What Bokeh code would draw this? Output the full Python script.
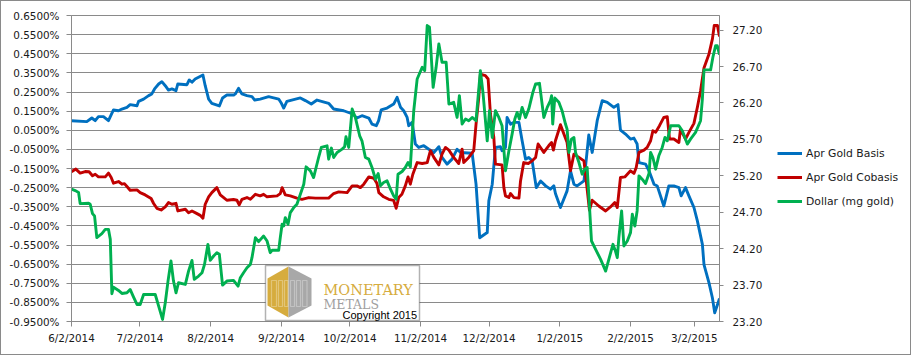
from datetime import datetime, timedelta
from bokeh.plotting import figure
from bokeh.layouts import row
from bokeh.models import (Range1d, LinearAxis, FixedTicker, PrintfTickFormatter,
                          CustomJSTickFormatter, Legend, LegendItem, Label,
                          PolyAnnotation, BoxAnnotation)
from bokeh.embed import file_html
from bokeh.resources import INLINE

START = "2014-06-02"
END = "2015-03-13"

# day offsets from START and values (left axis: %, right axis: mg gold)
basis_day = [0, 6.7, 8.9, 10.4, 11.8, 14.0, 16.2, 18.4, 20.6, 22.1, 24.3, 25.7, 28.7, 29.4, 31.6,
             33.8, 35.2, 36.4, 38.2, 39.6, 41.1, 42.5, 44.0, 45.8, 46.6, 50.6, 51.6, 52.8, 54.2,
             57.6, 58.6, 60.1, 61.5, 64.8, 66.2, 68.1, 71.1, 71.8, 73.2, 74.7, 76.9, 79.1, 80.3,
             82.7, 86.4, 90.8, 92.0, 93.0, 94.4, 100.3, 102.5, 105.1, 107.6, 112.7, 114.9, 119.3,
             123.2, 125.1, 127.3, 130.3, 131.7, 133.6, 134.6, 135.7, 138.3, 141.2, 142.7, 144.2,
             145.6, 147.1, 147.8, 149.3, 150.7, 152.2, 154.4, 156.6, 158.8, 161.0, 162.4, 164.6,
             166.8, 169.0, 170.5, 175.6, 177.3, 178.9, 182.2, 182.9, 184.4, 185.8, 188.0, 188.7,
             190.2, 190.9, 192.4, 193.9, 196.1, 197.5, 199.0, 200.4, 201.9, 203.7, 205.6, 207.8,
             209.9, 211.4, 212.1, 214.3, 217.2, 218.7, 220.2, 221.6, 224.6, 225.7, 226.7, 228.2,
             230.4, 232.6, 234.8, 237.7, 239.5, 240.6, 242.8, 245.0, 246.5, 247.9, 248.7, 251.6,
             253.1, 255.3, 256.7, 259.6, 261.8, 264.0, 266.2, 267.2, 269.1, 270.6, 272.8, 274.3,
             276.5, 277.2, 279.4, 280.9, 281.9, 284.0]
basis_pct = [0.100, 0.095, 0.114, 0.100, 0.121, 0.121, 0.100, 0.156, 0.152, 0.161, 0.170, 0.184,
             0.178, 0.201, 0.213, 0.231, 0.240, 0.266, 0.292, 0.304, 0.283, 0.260, 0.266, 0.257,
             0.292, 0.288, 0.313, 0.301, 0.318, 0.339, 0.283, 0.213, 0.191, 0.177, 0.219, 0.234,
             0.234, 0.240, 0.269, 0.240, 0.231, 0.226, 0.208, 0.213, 0.226, 0.213, 0.191, 0.166,
             0.201, 0.219, 0.205, 0.187, 0.208, 0.191, 0.161, 0.152, 0.135, 0.114, 0.126, 0.114,
             0.082, 0.074, 0.100, 0.156, 0.166, 0.187, 0.222, 0.170, 0.152, 0.117, 0.074, 0.091,
             -0.022, -0.040, -0.031, -0.049, -0.066, -0.036, -0.092, -0.127, -0.101, -0.049,
             -0.066, -0.070, -0.232, -0.512, -0.485, -0.319, -0.232, -0.040, -0.036, -0.057,
             -0.040, 0.117, 0.082, 0.091, 0.091, -0.005, -0.101, -0.092, -0.110, -0.250, -0.215,
             -0.241, -0.258, -0.241, -0.281, -0.354, -0.267, -0.162, -0.232, -0.241, -0.215,
             -0.092, 0.025, -0.066, 0.100, 0.205, 0.196, 0.170, 0.184, 0.051, 0.030, 0.004, 0.009,
             -0.022, -0.119, -0.127, -0.162, -0.232, -0.241, -0.346, -0.241, -0.241, -0.250,
             -0.293, -0.250, -0.293, -0.354, -0.424, -0.547, -0.652, -0.748, -0.827, -0.905, -0.830]

cobasis_day = [0, 1.9, 3.8, 6.0, 7.7, 9.2, 10.4, 11.8, 14.8, 16.2, 17.4, 18.4, 20.6, 22.1, 23.2,
               24.3, 25.7, 28.7, 30.1, 32.3, 34.9, 36.0, 37.4, 39.3, 41.1, 42.5, 44.0, 45.8, 46.6,
               49.9, 51.3, 52.8, 55.0, 56.4, 57.6, 58.6, 60.1, 61.5, 63.7, 65.2, 66.7, 68.1, 71.0,
               72.5, 73.5, 74.7, 76.9, 78.4, 80.6, 82.7, 84.2, 85.7, 90.1, 91.5, 92.3, 93.7, 95.9,
               98.8, 101.0, 104.0, 106.9, 112.7, 114.9, 117.1, 120.8, 123.0, 125.1, 126.6, 128.1,
               130.3, 132.5, 133.9, 134.7, 136.8, 139.0, 141.2, 142.3, 143.4, 144.8, 146.3, 147.5,
               148.5, 149.6, 151.5, 153.7, 155.9, 157.3, 158.8, 161.0, 162.4, 163.9, 165.4, 167.5,
               169.7, 171.2, 171.9, 174.1, 176.3, 177.3, 178.5, 179.2, 181.4, 182.6, 183.6, 185.1,
               185.8, 188.7, 189.5, 190.2, 191.7, 192.4, 193.9, 196.1, 196.8, 198.2, 200.2, 201.9,
               203.4, 204.5, 207.0, 209.2, 210.4, 211.2, 212.1, 214.3, 215.8, 217.2, 218.7, 220.2,
               222.4, 224.6, 225.6, 227.0, 228.2, 231.1, 234.1, 236.2, 238.1, 239.2, 240.6, 242.5,
               245.0, 246.5, 247.5, 248.7, 250.9, 252.3, 253.8, 254.8, 256.0, 257.7, 259.6, 261.1,
               262.1, 264.0, 266.2, 266.9, 269.1, 270.6, 272.8, 274.3, 275.7, 277.2, 279.4, 280.9,
               281.7, 283.1, 284.0]
cobasis_pct = [-0.167, -0.153, -0.174, -0.166, -0.167, -0.188, -0.180, -0.194, -0.194, -0.174,
               -0.197, -0.227, -0.218, -0.232, -0.229, -0.244, -0.264, -0.262, -0.276, -0.288,
               -0.307, -0.333, -0.358, -0.367, -0.351, -0.328, -0.337, -0.332, -0.372, -0.363,
               -0.381, -0.372, -0.386, -0.395, -0.410, -0.337, -0.298, -0.276, -0.250, -0.288,
               -0.302, -0.316, -0.312, -0.316, -0.340, -0.311, -0.302, -0.311, -0.285, -0.293,
               -0.285, -0.298, -0.293, -0.281, -0.250, -0.288, -0.293, -0.305, -0.311, -0.302,
               -0.305, -0.305, -0.281, -0.272, -0.276, -0.241, -0.241, -0.250, -0.232, -0.194,
               -0.201, -0.229, -0.276, -0.298, -0.311, -0.317, -0.358, -0.302, -0.285, -0.241,
               -0.194, -0.232, -0.180, -0.119, -0.124, -0.119, -0.057, -0.092, -0.131, -0.075,
               -0.040, -0.054, -0.092, -0.124, -0.049, -0.119, -0.092, -0.057, 0.082, 0.222,
               0.344, 0.336, 0.318, 0.135, 0.012, -0.127, -0.131, -0.250, -0.293, -0.302, -0.281,
               -0.302, -0.305, -0.215, -0.119, -0.124, -0.110, -0.092, -0.022, -0.066, -0.030,
               -0.014, -0.054, -0.005, 0.079, 0.030, -0.014, -0.162, -0.075, -0.092, -0.110,
               -0.215, -0.368, -0.316, -0.346, -0.372, -0.351, -0.328, -0.354, -0.197, -0.194,
               -0.162, -0.176, -0.145, -0.066, -0.054, -0.040, -0.005, 0.047, 0.039, 0.074, 0.117,
               0.121, 0.004, 0.004, -0.014, 0.056, 0.004, 0.039, 0.086, 0.170, 0.257, 0.376, 0.449,
               0.528, 0.598, 0.598, 0.540]

dollar_day = [0, 1.9, 3.1, 3.8, 7.5, 8.2, 9.2, 10.1, 11.1, 13.3, 14.8, 16.2, 17.0, 17.7, 18.4,
              20.6, 22.1, 24.3, 25.7, 27.2, 28.7, 30.1, 31.6, 36.7, 38.2, 39.9, 41.1, 42.3, 43.6,
              44.7, 45.8, 46.9, 49.9, 51.3, 52.8, 53.8, 55.7, 57.2, 58.3, 59.8, 60.8, 62.3, 63.7,
              64.8, 66.2, 68.1, 71.0, 73.0, 74.0, 75.4, 76.9, 78.4, 79.1, 80.6, 82.0, 84.2, 85.7,
              87.1, 87.9, 90.8, 91.5, 92.3, 93.0, 93.7, 94.9, 95.9, 97.4, 98.8, 100.3, 101.8, 102.8,
              104.7, 106.1, 107.2, 108.3, 109.5, 112.0, 112.7, 113.9, 114.9, 116.4, 118.6, 119.7,
              120.3, 121.5, 123.0, 124.4, 126.3, 127.3, 128.8, 130.3, 131.7, 133.2, 134.4, 135.4,
              136.8, 138.3, 139.8, 141.2, 142.3, 143.1, 144.9, 146.3, 147.5, 148.5, 150.0, 151.5,
              153.7, 154.8, 155.9, 156.9, 158.5, 159.8, 161.0, 162.4, 164.2, 165.4, 167.5, 169.0,
              170.0, 171.2, 172.7, 174.1, 175.6, 177.3, 179.2, 180.4, 182.2, 183.2, 184.4, 185.8,
              187.3, 188.7, 190.2, 191.7, 193.1, 194.3, 195.3, 196.3, 197.5, 199.0, 200.4, 202.2,
              203.4, 205.1, 207.0, 208.5, 209.9, 210.4, 210.9, 211.8, 213.6, 215.0, 216.5, 217.2,
              218.0, 219.1, 220.2, 220.9, 222.4, 223.8, 225.0, 226.0, 226.7, 227.9, 229.7, 231.9,
              234.1, 235.5, 237.3, 238.4, 239.2, 239.9, 241.1, 242.1, 243.6, 245.0, 245.8, 246.9,
              247.9, 248.7, 250.1, 251.6, 253.1, 253.8, 254.8, 256.0, 257.4, 258.9, 260.1, 261.1,
              262.6, 266.2, 267.7, 269.9, 271.3, 273.5, 275.7, 276.5, 277.2, 280.1, 281.1, 282.3,
              283.0, 284.0]
dollar_mg = [25.016, 24.993, 24.970, 24.818, 24.823, 24.809, 24.681, 24.649, 24.351, 24.406,
             24.465, 24.465, 24.328, 23.581, 23.672, 23.626, 23.585, 23.594, 23.640, 23.535,
             23.434, 23.434, 23.571, 23.571, 23.411, 23.228, 23.457, 23.755, 24.030, 23.755,
             23.594, 23.732, 23.709, 23.892, 24.039, 23.778, 23.824, 23.869, 23.984, 24.259,
             24.039, 24.099, 24.145, 24.122, 23.700, 23.755, 23.764, 23.686, 23.801, 23.869,
             23.938, 23.984, 24.076, 24.351, 24.296, 24.374, 24.305, 24.145, 24.177, 24.177,
             24.351, 24.534, 24.511, 24.626, 24.534, 24.695, 24.763, 24.809, 24.947, 25.084,
             25.323, 25.268, 25.176, 25.314, 25.451, 25.589, 25.612, 25.428, 25.580, 25.451,
             25.520, 25.566, 25.598, 25.736, 25.589, 26.116, 26.001, 25.749, 25.680, 25.451,
             25.428, 25.314, 25.153, 25.231, 25.062, 25.107, 25.130, 25.016, 24.924, 24.878,
             25.222, 25.259, 25.314, 25.382, 25.323, 26.093, 26.529, 26.689, 26.643, 27.262,
             27.239, 26.414, 26.689, 27.010, 26.758, 26.758, 26.185, 26.208, 26.001, 26.299,
             25.910, 25.979, 25.956, 26.001, 25.956, 26.643, 26.322, 25.680, 26.093, 25.726,
             26.093, 26.001, 25.887, 25.268, 25.543, 25.772, 25.979, 26.070, 25.979, 26.139,
             26.001, 26.116, 26.345, 26.460, 26.469, 26.001, 26.139, 26.231, 26.299, 25.910,
             26.267, 26.208, 26.093, 25.910, 25.841, 25.520, 25.703, 25.726, 25.520, 25.382,
             25.222, 25.291, 25.314, 24.947, 24.305, 24.190, 24.053, 23.892, 24.053, 24.259,
             24.167, 24.076, 24.351, 24.718, 24.236, 24.305, 24.420, 24.672, 24.511, 24.718,
             25.199, 25.153, 25.094, 25.231, 25.520, 25.451, 25.291, 25.474, 25.589, 25.726,
             25.680, 25.887, 25.887, 25.818, 25.635, 25.703, 25.795, 25.956, 26.254, 26.653,
             26.653, 26.827, 26.987, 26.987, 26.863]

left_ticks = [0.65, 0.55, 0.45, 0.35, 0.25, 0.15, 0.05, -0.05, -0.15, -0.25, -0.35, -0.45,
              -0.55, -0.65, -0.75, -0.85, -0.95]
right_ticks = [23.2, 23.7, 24.2, 24.7, 25.2, 25.7, 26.2, 26.7, 27.2]
date_ticks = ["2014-06-02", "2014-07-02", "2014-08-02", "2014-09-02", "2014-10-02",
              "2014-11-02", "2014-12-02", "2015-01-02", "2015-02-02", "2015-03-02"]
series_names = ["Apr Gold Basis", "Apr Gold Cobasis", "Dollar (mg gold)"]
series_colors = ["#0070C0", "#C00000", "#00B050"]

start = datetime.strptime(START, "%Y-%m-%d")
end = datetime.strptime(END, "%Y-%m-%d")


def to_dates(days):
    return [start + timedelta(days=d) for d in days]


def to_ms(s):
    return (datetime.strptime(s, "%Y-%m-%d") - datetime(1970, 1, 1)).total_seconds() * 1000.0


GRID = "#8a8a8a"
TXT = "#1a1a1a"
FONT = "DejaVu Sans"
LW = 2.9

p = figure(width=764, height=353, x_axis_type="datetime",
           x_range=Range1d(start=start, end=end), y_range=Range1d(start=-0.95, end=0.65),
           output_backend="svg", toolbar_location=None,
           min_border_left=70, min_border_right=46, min_border_top=14, min_border_bottom=33)
p.extra_y_ranges = {"dollar": Range1d(start=23.2, end=27.4)}
p.outline_line_color = GRID
p.background_fill_color = "white"
p.border_fill_color = "white"

p.xgrid.visible = False
p.ygrid.ticker = FixedTicker(ticks=left_ticks)
p.ygrid.grid_line_color = GRID
p.ygrid.grid_line_width = 1

# left axis
ya = p.yaxis[0]
ya.ticker = FixedTicker(ticks=left_ticks)
ya.formatter = PrintfTickFormatter(format="%.4f%%")
# bottom axis
xa = p.xaxis[0]
xa.ticker = FixedTicker(ticks=[to_ms(s) for s in date_ticks])
xa.formatter = CustomJSTickFormatter(code="""
const d = new Date(tick);
return (d.getUTCMonth() + 1) + "/" + d.getUTCDate() + "/" + d.getUTCFullYear();
""")
# right axis
ra = LinearAxis(y_range_name="dollar", ticker=FixedTicker(ticks=right_ticks),
                formatter=PrintfTickFormatter(format="%.2f"))
p.add_layout(ra, "right")

for ax in (ya, xa, ra):
    ax.axis_line_color = GRID
    ax.major_tick_line_color = GRID
    ax.minor_tick_line_color = None
    ax.major_tick_in = 0
    ax.major_tick_out = 5
    ax.major_label_text_font = FONT
    ax.major_label_text_font_size = "10.4px"
    ax.major_label_text_color = TXT
ya.major_label_standoff = 7
ra.major_tick_out = 4
ra.major_label_standoff = 9
xa.major_label_standoff = 5

p.line(to_dates(basis_day), basis_pct, line_color=series_colors[0], line_width=LW,
       line_join="round")
p.line(to_dates(cobasis_day), cobasis_pct, line_color=series_colors[1], line_width=LW,
       line_join="round")
p.line(to_dates(dollar_day), dollar_mg, line_color=series_colors[2], line_width=LW,
       line_join="round", y_range_name="dollar")

# logo box (screen units, frame-relative)
p.add_layout(BoxAnnotation(left=194, right=348, top=56, bottom=1,
                           left_units="screen", right_units="screen",
                           top_units="screen", bottom_units="screen",
                           fill_color="white", fill_alpha=1.0,
                           line_color="black", line_width=1.5, level="annotation"))
p.add_layout(PolyAnnotation(xs=[217, 196, 196, 217], ys=[55, 43, 16, 4],
                            xs_units="screen", ys_units="screen",
                            fill_color="#D6AC3E", fill_alpha=1.0, line_color=None))
p.add_layout(PolyAnnotation(xs=[217, 240, 240, 217], ys=[55, 43, 16, 4],
                            xs_units="screen", ys_units="screen",
                            fill_color="#A8A8A8", fill_alpha=1.0, line_color=None))
for l, r in [(200, 205), (207, 211), (213, 216.5), (219, 223), (225, 229), (231, 235.5)]:
    p.add_layout(BoxAnnotation(left=l, right=r, top=41, bottom=15,
                               left_units="screen", right_units="screen",
                               top_units="screen", bottom_units="screen",
                               fill_alpha=0, line_color="white", line_width=1.2))
p.add_layout(Label(x=252, y=32, x_units="screen", y_units="screen", text="MONETARY",
                   text_font="DejaVu Serif", text_font_size="14.5px", text_color="#D6AC3E",
                   text_baseline="alphabetic"))
p.add_layout(Label(x=252, y=17.5, x_units="screen", y_units="screen", text="METALS",
                   text_font="DejaVu Serif", text_font_size="12.5px", text_color="#A0A0A0",
                   text_baseline="alphabetic"))
p.add_layout(Label(x=271, y=6.5, x_units="screen", y_units="screen", text="Copyright 2015",
                   text_font="Liberation Sans", text_font_size="11px", text_color="black",
                   text_baseline="alphabetic"))

# legend panel (separate canvas to the right of the chart)
q = figure(width=145, height=353, x_range=Range1d(0, 1), y_range=Range1d(0, 1),
           output_backend="svg", toolbar_location=None,
           x_axis_location=None, y_axis_location=None,
           min_border_left=0, min_border_right=0, min_border_top=0, min_border_bottom=0)
q.grid.visible = False
q.outline_line_color = None
q.background_fill_color = "white"
q.border_fill_color = "white"
# key renderers placed outside the visible range: only their legend swatches show
key_lines = [q.line(x=[5, 6], y=[5, 6], line_color=c, line_width=3) for c in series_colors]
legend = Legend(items=[LegendItem(label=n, renderers=[r]) for n, r in zip(series_names, key_lines)],
                location=(12, 110), glyph_width=25, glyph_height=20, label_height=20,
                label_standoff=4, spacing=4, padding=0, margin=0,
                border_line_color=None, background_fill_alpha=0,
                label_text_font=FONT, label_text_font_size="10.8px", label_text_color=TXT)
q.add_layout(legend)

layout = row(p, q, spacing=0, styles={"border": "1px solid #8a8a8a"})
open("out.html", "w").write(file_html(layout, INLINE))
